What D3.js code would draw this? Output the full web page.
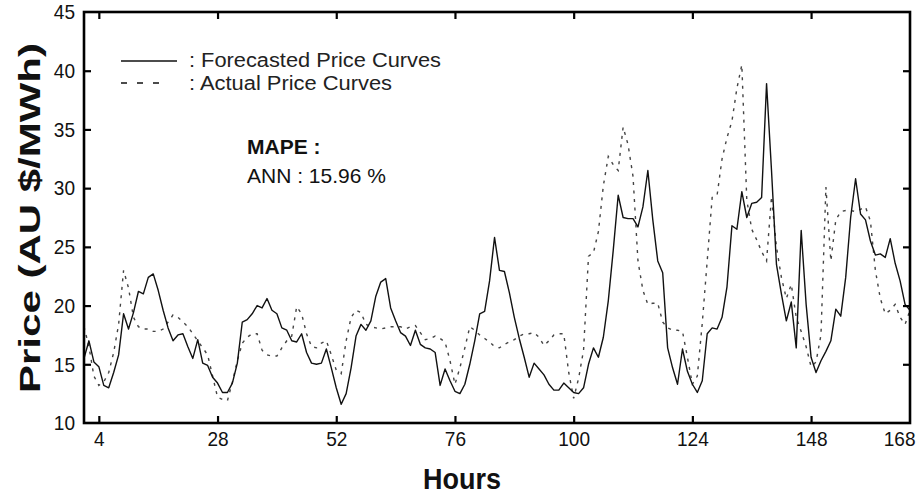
<!DOCTYPE html>
<html>
<head>
<meta charset="utf-8">
<script src="https://cdn.jsdelivr.net/npm/d3@7"></script>
<style>
  html, body { margin: 0; padding: 0; background: #fff; }
  svg { display: block; font-family: "Liberation Sans", Arial, Helvetica, sans-serif; }
</style>
</head>
<body>
<svg id="chart" width="918" height="495"></svg>
<script>
// Hourly electricity prices over one week (hours 1..168)
const forecast = [
  15.5, 17.0, 15.2, 14.8, 13.2, 13.0, 14.3, 15.8, 19.3, 18.0,
  19.4, 21.2, 21.0, 22.4, 22.7, 21.3, 19.6, 18.1, 17.0, 17.5,
  17.6, 16.5, 15.5, 17.1, 15.1, 14.9, 13.9, 13.4, 12.6, 12.6,
  13.4, 15.1, 18.6, 18.8, 19.3, 20.0, 19.8, 20.6, 19.6, 19.3,
  18.1, 17.9, 17.0, 16.9, 17.6, 16.0, 15.1, 15.0, 15.1, 16.3,
  14.7, 13.0, 11.6, 12.5, 14.7, 17.4, 18.4, 17.9, 18.7, 20.8,
  22.0, 22.3, 19.8, 18.7, 17.7, 17.4, 16.6, 17.9, 16.7, 16.4,
  16.3, 16.0, 13.2, 14.6, 13.6, 12.7, 12.5, 13.3, 15.0, 17.0,
  19.3, 19.5, 22.1, 25.8, 23.0, 22.9, 21.1, 19.0, 17.2, 15.6,
  13.9, 15.1, 14.6, 14.1, 13.3, 12.8, 12.8, 13.4, 13.0, 12.6,
  12.5, 13.0, 15.0, 16.4, 15.6, 17.3, 20.4, 24.7, 29.4, 27.5,
  27.4, 27.4, 26.7, 28.4, 31.5, 27.3, 23.8, 22.8, 16.4, 14.7,
  13.3, 16.3, 14.4, 13.3, 12.6, 13.6, 17.6, 18.1, 18.0, 19.0,
  21.6, 26.8, 26.5, 29.7, 27.5, 28.7, 28.8, 29.2, 38.9, 31.5,
  23.5, 21.0, 18.7, 20.3, 16.4, 26.4, 20.1, 15.6, 14.3, 15.3,
  16.1, 17.0, 19.7, 19.1, 22.4, 27.5, 30.8, 27.8, 27.3, 25.5,
  24.3, 24.4, 24.1, 25.7, 23.6, 22.1, 20.1, 19.6
];

const actual = [
  18.2, 16.5, 14.0, 13.2, 13.5, 14.3, 16.0, 18.4, 23.0, 21.5,
  19.0, 18.2, 18.0, 18.0, 17.8, 17.8, 18.0, 18.6, 19.2, 19.0,
  18.6, 18.2, 17.6, 17.0, 16.4, 15.8, 14.0, 12.2, 12.0, 11.9,
  13.5, 15.3, 16.8, 17.3, 17.6, 17.6, 16.2, 15.8, 15.7, 15.7,
  16.4, 17.0, 17.4, 19.9, 19.3, 17.6, 16.5, 16.4, 16.8, 17.0,
  15.8, 14.5, 14.2, 17.0, 19.0, 19.6, 19.4, 18.4, 18.2, 18.1,
  18.0, 18.1, 18.2, 18.2, 18.2, 18.0, 18.2, 18.3, 17.7, 17.1,
  17.2, 17.4, 17.2, 16.9, 15.3, 13.3, 14.7, 16.4, 18.2, 17.9,
  17.5, 17.2, 16.9, 16.5, 16.4, 16.7, 16.9, 17.1, 17.4, 17.6,
  17.6, 17.7, 17.3, 16.6, 17.0, 17.5, 17.6, 17.6, 14.3, 12.1,
  13.8, 16.2, 24.2, 24.5, 26.3, 30.2, 32.7, 32.0, 31.5, 35.2,
  33.7, 31.0, 23.8, 21.3, 20.1, 20.2, 20.2, 18.6, 18.1, 17.9,
  17.9, 17.8, 15.6, 13.3, 14.0, 18.5, 23.8, 29.2, 29.4, 32.5,
  34.3, 35.7, 38.5, 40.5, 29.0, 26.5, 25.6, 24.6, 23.8, 29.3,
  25.0, 22.4, 20.6, 21.8, 19.0, 17.8, 16.5, 14.8, 15.2, 17.5,
  30.1, 23.8, 27.3, 28.0, 28.1, 28.1, 28.0, 28.2, 28.4, 27.2,
  23.0, 20.6, 19.3, 19.6, 20.1, 19.0, 18.4, 19.6
];

const hours = forecast.map((_, i) => i + 1);

const xTicks = [4, 28, 52, 76, 100, 124, 148, 168];
const yTicks = [10, 15, 20, 25, 30, 35, 40, 45];

const legendLabels = [": Forecasted Price Curves", ": Actual Price Curves"];
const legendWidths = [252, 203];
const mapeTitle = "MAPE :";
const mapeText = "ANN : 15.96 %";

const svg = d3.select("#chart");
const m = { left: 84, right: 910, top: 12, bottom: 423 };

const x = d3.scaleLinear().domain([1, 168]).range([m.left, m.right]);
const y = d3.scaleLinear().domain([10, 45]).range([m.bottom, m.top]);

// clip the curves to the plot frame
svg.append("defs").append("clipPath").attr("id", "plotClip")
  .append("rect")
  .attr("x", m.left).attr("y", m.top)
  .attr("width", m.right - m.left).attr("height", m.bottom - m.top);

const line = d3.line().x((d, i) => x(hours[i])).y(d => y(d));

const plot = svg.append("g").attr("clip-path", "url(#plotClip)");

plot.append("path")
  .datum(actual)
  .attr("d", line)
  .attr("fill", "none")
  .attr("stroke", "#444")
  .attr("stroke-width", 1.4)
  .attr("stroke-dasharray", "3,5.5");

plot.append("path")
  .datum(forecast)
  .attr("d", line)
  .attr("fill", "none")
  .attr("stroke", "#111")
  .attr("stroke-width", 1.4)
  .attr("stroke-linejoin", "round");

// axes: inward ticks on all four sides, narrow tall digits
const tickFont = 21;
const digitWidth = 10.6;
function styleAxis(g) {
  g.select(".domain").remove();
  g.selectAll(".tick line").attr("stroke", "#000").attr("stroke-width", 2.2);
  g.selectAll(".tick text")
    .attr("fill", "#111")
    .style("font-size", tickFont + "px")
    .attr("textLength", d => String(d).length * digitWidth)
    .attr("lengthAdjust", "spacingAndGlyphs");
}

const innerX = xTicks.filter(v => v !== 168);
const innerY = yTicks.filter(v => v !== 10 && v !== 45);

const gBottom = svg.append("g")
  .attr("transform", `translate(0,${m.bottom})`)
  .call(d3.axisBottom(x).tickValues(xTicks).tickSize(-7).tickPadding(8))
  .call(styleAxis);
gBottom.selectAll(".tick")
  .filter(d => d === 168)
  .select("line").remove();
gBottom.selectAll(".tick text")
  .filter(d => d === 168)
  .attr("text-anchor", "end")
  .attr("x", 5);

svg.append("g")
  .attr("transform", `translate(0,${m.top})`)
  .call(d3.axisTop(x).tickValues(innerX).tickSize(-7).tickFormat(""))
  .call(styleAxis);

svg.append("g")
  .attr("transform", `translate(${m.left},0)`)
  .call(d3.axisLeft(y).tickValues(yTicks).tickSize(-7).tickPadding(9))
  .call(styleAxis)
  .selectAll(".tick")
  .filter(d => d === 10 || d === 45)
  .select("line").remove();

svg.append("g")
  .attr("transform", `translate(${m.right},0)`)
  .call(d3.axisRight(y).tickValues(innerY).tickSize(-7).tickFormat(""))
  .call(styleAxis);

// plot frame
svg.append("rect")
  .attr("x", m.left).attr("y", m.top)
  .attr("width", m.right - m.left).attr("height", m.bottom - m.top)
  .attr("fill", "none")
  .attr("stroke", "#000")
  .attr("stroke-width", 2.6);

// axis titles
svg.append("text")
  .attr("x", 462).attr("y", 489)
  .attr("text-anchor", "middle")
  .style("font-size", "30px").style("font-weight", "bold")
  .attr("fill", "#111")
  .attr("textLength", 78)
  .attr("lengthAdjust", "spacingAndGlyphs")
  .text("Hours");

svg.append("text")
  .attr("transform", "translate(40,218) rotate(-90)")
  .attr("text-anchor", "middle")
  .style("font-size", "29px").style("font-weight", "bold")
  .attr("fill", "#111")
  .attr("textLength", 350)
  .attr("lengthAdjust", "spacingAndGlyphs")
  .text("Price (AU $/MWh)");

// legend
const legend = svg.append("g");
legend.append("line")
  .attr("x1", 121).attr("x2", 177).attr("y1", 61).attr("y2", 61)
  .attr("stroke", "#111").attr("stroke-width", 1.4);
legend.append("line")
  .attr("x1", 121).attr("x2", 160).attr("y1", 83).attr("y2", 83)
  .attr("stroke", "#111").attr("stroke-width", 1.4)
  .attr("stroke-dasharray", "6,10");
legend.selectAll("text.leg")
  .data(legendLabels)
  .join("text")
  .attr("class", "leg")
  .attr("x", 189)
  .attr("y", (d, i) => 67 + i * 23)
  .style("font-size", "19.5px")
  .attr("fill", "#222")
  .attr("textLength", (d, i) => legendWidths[i])
  .attr("lengthAdjust", "spacingAndGlyphs")
  .text(d => d);

// error annotation
svg.append("text")
  .attr("x", 247).attr("y", 154)
  .style("font-size", "21px").style("font-weight", "bold")
  .attr("fill", "#111")
  .text(mapeTitle);
svg.append("text")
  .attr("x", 247).attr("y", 183)
  .style("font-size", "21px")
  .attr("fill", "#111")
  .text(mapeText);
</script>
</body>
</html>
